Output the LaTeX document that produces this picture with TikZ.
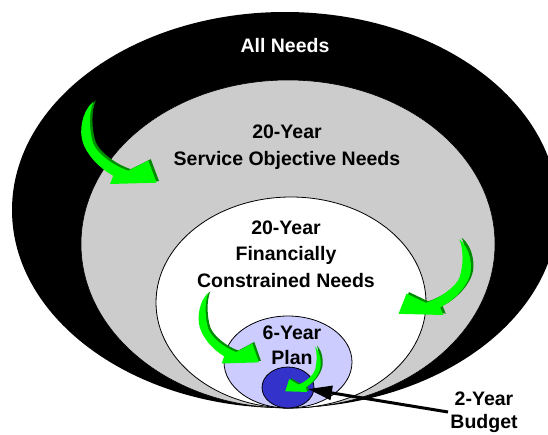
\documentclass[tikz,border=0pt]{standalone}
\usepackage{fontspec}
\setmainfont{Liberation Sans}
\usetikzlibrary{arrows.meta}
\definecolor{glime}{RGB}{0,255,0}
\definecolor{gdark}{RGB}{0,140,0}
\definecolor{ringgray}{RGB}{204,204,204}
\definecolor{planblue}{RGB}{204,204,255}
\definecolor{budgetblue}{RGB}{51,51,204}
\newcommand{\arrowpath}{(0,0) .. controls (-12,10) and (-14,30) .. (-10.7,40) .. controls (-7,52) and (5,66) .. (20,74) -- (16.7,82.3) -- (63.3,81) -- (55,59) -- (35,69) .. controls (20,64) and (4,52) .. (0,42) .. controls (-4,30) and (-5,12) .. (0,0) -- cycle}
\newcommand{\garrow}[6]{%
  \fill[gdark,shift={(#1+#5,#2+#6)},xscale=#3,yscale=#4] \arrowpath;
  \fill[glime,shift={(#1,#2)},xscale=#3,yscale=#4] \arrowpath;}
\tikzset{
  lbl/.style={font=\fontsize{19.5}{27}\selectfont\bfseries, align=center, inner sep=0pt},
  ring/.style={draw=black, line width=0.8pt}
}
\begin{document}
\begin{tikzpicture}[x=1pt,y=-1pt]
\clip (0,0) rectangle (548,434);
\fill[white] (0,0) rectangle (548,434);
% nested ellipses
\fill[black] (285,210) ellipse [x radius=273, y radius=198];
\filldraw[fill=ringgray, draw=black, line width=0.6pt] (288,244) ellipse [x radius=207, y radius=164];
\filldraw[fill=white, ring] (291,302.5) ellipse [x radius=135, y radius=105.5];
\filldraw[fill=planblue, ring] (288,362) ellipse [x radius=64, y radius=46];
\filldraw[fill=budgetblue, ring] (288,387.5) ellipse [x radius=26, y radius=20.5];
% green arrows
\garrow{93.3}{101.7}{1}{1}{2.5}{-1.5}
\garrow{459.3}{239.3}{-0.96}{0.92}{2.5}{-1.5}
\garrow{208.3}{292.7}{0.8}{0.86}{2}{-1.5}
\garrow{315}{346.7}{-0.47}{0.55}{2}{-1}
% labels
\node[lbl, text=white] (all) at (285,46) {All Needs};
\node[lbl, font=\fontsize{19.5}{27}\selectfont\bfseries] (svc) at (287,147) {20-Year\\Service Objective Needs};
\node[lbl, font=\fontsize{19.5}{26.5}\selectfont\bfseries] (fin) at (286,254) {20-Year\\Financially\\Constrained Needs};
\node[lbl, font=\fontsize{19.5}{25}\selectfont\bfseries] (plan) at (292,345) {6-Year\\Plan};
\node[lbl, font=\fontsize{19.5}{23}\selectfont\bfseries] (budget) at (484,412) {2-Year\\Budget};
% budget pointer
\coordinate (budgetstart) at (448,412);
\coordinate (budgettip) at (308,389);
\draw[line width=3pt, -{Triangle[length=24pt,width=14pt]}] (budgetstart) -- (budgettip);
\end{tikzpicture}
\end{document}
